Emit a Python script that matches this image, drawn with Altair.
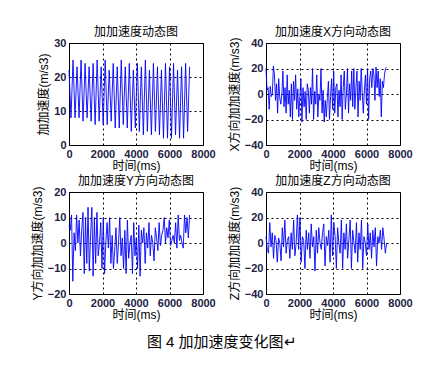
import altair as alt
import pandas as pd

# ---- data ----
jerk_total = [22, 8, 25, 8, 23, 8, 25, 7, 24, 8, 23, 7, 24, 6, 25, 7, 23, 6, 25, 6,
              22, 7, 24, 5, 23, 5, 25, 6, 23, 5, 24, 4, 22, 5, 24, 4, 23, 3, 25, 4,
              22, 3, 24, 4, 23, 3, 22, 2, 24, 2, 23, 2, 24, 3, 22, 2, 23, 2, 24, 4, 23]
jerk_x = [20, 3, 5, -12, 6, -2, 0, 22, 15, -5, 8, -15, 12, -3, -8, 0, 18, -10, 5, -15,
          15, -8, 3, -18, 8, -20, 10, -5, 15, -12, 4, -18, -2, 12, -22, 5, -10, 2, -20, 8,
          3, -15, 5, -8, 20, -20, 2, -8, 15, -18, 0, -5, 20, -15, 3, -22, -5, -18, -3, 10,
          -20, -2, 12, -12, 18, -15, 5, 8, -18, 3, -10, 15, -20, 5, 18, -12, 0, 20, -15, 8,
          -5, 18, -10, 20, -12, 5, 18, -18, 10, -5, 20, 0, -15, 3, 15, -8, 20, -20, 12, 18,
          5, 20, 15, -5, 21, 5, 18, -2, 12, -18, 10, 5, 15, 20, 21]
jerk_y = [7, 5, 11, -15, 4, -3, 11, 0, 9, -5, 5, 12, -12, 10, -8, 14, -11, 3, 14, -13,
          10, -8, 12, -5, 0, 8, -10, 10, -12, 0, 8, -2, 10, -8, 3, -10, -3, 6, -8, 0,
          10, -5, 2, -10, 5, -12, 9, -6, 0, 3, -12, 8, -5, 2, -10, 7, -13, 5, 0, 6,
          -8, 4, -2, 8, -5, 3, 0, -7, 6, 2, -3, 8, -1, 3, 5, 10, 0, 6, 2, 9,
          -1, 1, 3, 0, 8, -2, 11, 1, 3, 0, -2, 11, 4, 10, 2, 11]
jerk_z = [5, -5, -8, 16, -3, 8, -12, 6, 2, -15, 4, 0, -14, 12, -3, 18, -8, 2, 5, -12,
          8, -5, 18, -10, 0, 22, -5, 20, -15, 5, 2, -20, 10, -5, 8, -12, 15, -3, 5, -22,
          10, -8, 12, 0, -5, 8, 15, -18, 5, -2, 10, -15, 22, -10, 16, 5, -20, 12, 0, -8,
          18, -20, 8, -5, 15, -12, 3, 18, -20, 10, 0, -8, 16, -15, 8, -5, 18, -20, 5, 0,
          -10, 15, -5, 8, -12, 10, -3, 12, -18, 5, 0, 10, -5, 12, 3, -8, 0]
t_end = 7200

titles = ["加加速度动态图", "加加速度X方向动态图", "加加速度Y方向动态图", "加加速度Z方向动态图"]
ytitles = ["加加速度(m/s3)", "X方向加加速度(m/s3)", "Y方向加加速度(m/s3)", "Z方向加加速度(m/s3)"]
ydomains = [[0, 30], [-40, 40], [-20, 20], [-40, 40]]
yticks = [[0, 10, 20, 30], [-40, -20, 0, 20, 40], [-20, -10, 0, 10, 20], [-40, -20, 0, 20, 40]]
xticks = [0, 2000, 4000, 6000, 8000]
xtitle = "时间(ms)"
caption = "图 4  加加速度变化图↵"

FONT = "Liberation Sans, Noto Sans CJK SC"


def panel(vals, title, ytitle, ydom, ytk):
    n = len(vals)
    df = pd.DataFrame({"t": [i * t_end / (n - 1) for i in range(n)], "v": vals})
    return alt.Chart(df).mark_line(color="#0000FF", strokeWidth=0.9).encode(
        x=alt.X("t:Q", scale=alt.Scale(domain=[0, 8000], nice=False),
                axis=alt.Axis(values=xticks, title=xtitle, labelFlush=False, format="d",
                              titlePadding=1)),
        y=alt.Y("v:Q", scale=alt.Scale(domain=ydom, nice=False),
                axis=alt.Axis(values=ytk, title=ytitle, format="d")),
    ).properties(width=134, height=102,
                 title=alt.TitleParams(title, fontSize=12, font=FONT, fontWeight="normal",
                                       offset=-2))


charts = [panel(v, t, yt, d, k) for v, t, yt, d, k in
          zip([jerk_total, jerk_x, jerk_y, jerk_z], titles, ytitles, ydomains, yticks)]

chart = alt.concat(*charts, columns=2, spacing={"row": 2, "column": 11}).properties(
    title=alt.TitleParams(caption, orient="bottom", anchor="middle", fontSize=15, font=FONT,
                          fontWeight="normal", offset=14, color="#000"),
    padding={"top": 17, "left": 22, "right": 5, "bottom": 5},
    background="white",
).configure_view(stroke="black", strokeWidth=1).configure_axis(
    grid=True, gridColor="black", gridDash=[2, 3], gridWidth=1, gridOpacity=1,
    ticks=False, domain=False, labelFont=FONT, labelFontSize=11, labelFontWeight="bold",
    labelColor="#222244", labelPadding=3, titleFont=FONT, titleFontSize=12,
    titleFontWeight="normal", titleColor="#000", titlePadding=3,
)

chart.save("out.html", embed_options={"renderer": "svg", "actions": False})
